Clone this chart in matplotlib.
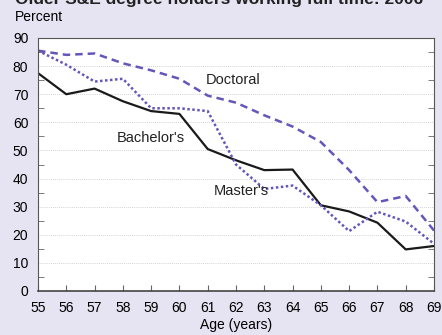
import matplotlib.pyplot as plt
import numpy as np

# Older S&E degree holders working full time, by age
ages = [55, 56, 57, 58, 59, 60, 61, 62, 63, 64, 65, 66, 67, 68, 69]
bachelors = [77.5, 70, 72, 67.5, 64, 63, 50.5, 46.5, 43, 43.2, 30.5, 28.3, 24.3, 14.8, 16]
masters = [85.5, 80.5, 74.5, 75.5, 65, 65, 64, 45, 36.3, 37.5, 30.5, 21.3, 28.2, 24.7, 16.8]
doctoral = [85.5, 84, 84.5, 81, 78.5, 75.5, 69.5, 67, 62.5, 58.5, 53, 43, 31.6, 33.8, 21.5]

plt.rcParams['font.family'] = ['Liberation Sans', 'DejaVu Sans']

bg = '#e6e4f2'
purple = '#6655bb'

fig = plt.figure(figsize=(4.42, 3.35), dpi=100, facecolor=bg)
ax = fig.add_axes([38 / 442, 1 - 291 / 335, (434 - 38) / 442, (291 - 38) / 335])
ax.set_facecolor('white')

ax.plot(ages, bachelors, color='#1a1a1a', lw=1.6)
ax.plot(ages, masters, color=purple, lw=1.8, linestyle=(0, (1, 1)))
ax.plot(ages, doctoral, color=purple, lw=1.8, linestyle=(0, (3, 2)))

ax.text(61.9, 75, 'Doctoral', ha='center', va='center', fontsize=10.5, color='#222')
ax.text(59.0, 54.4, "Bachelor's", ha='center', va='center', fontsize=10.5, color='#222')
ax.text(62.2, 35.5, "Master's", ha='center', va='center', fontsize=10.5, color='#222')

ax.set_xlim(55, 69)
ax.set_ylim(0, 90)
ax.set_xticks(ages)
ax.set_yticks(np.arange(0, 91, 10))
ax.set_yticks(np.arange(5, 90, 10), minor=True)
ax.yaxis.grid(True, which='major', color='#c4c4c4', linestyle=(0, (1, 1.5)), lw=0.6)
ax.tick_params(axis='x', direction='in', length=4, color='#666', labelsize=10, pad=7)
ax.tick_params(axis='y', which='major', length=0, labelsize=10, pad=7)
ax.tick_params(axis='y', which='minor', direction='in', length=4, color='#666',
               left=True, right=True)
for s in ax.spines.values():
    s.set_color('#555555')
    s.set_linewidth(0.8)
ax.spines['bottom'].set_color('#444444')
ax.spines['bottom'].set_linewidth(1.2)

fig.text(0.5 * (38 + 434) / 442, 1 - 325 / 335, 'Age (years)', fontsize=10,
         va='center', ha='center')
fig.text(15 / 442, 1 - 17 / 335, 'Percent', fontsize=10, va='center', ha='left')
fig.text(15 / 442, 1 - 4 / 335, 'Older S&E degree holders working full time: 2006',
         fontsize=12.5, fontweight='bold', va='baseline', ha='left', color='#222')

fig.savefig('out.png', dpi=100, facecolor=bg)
